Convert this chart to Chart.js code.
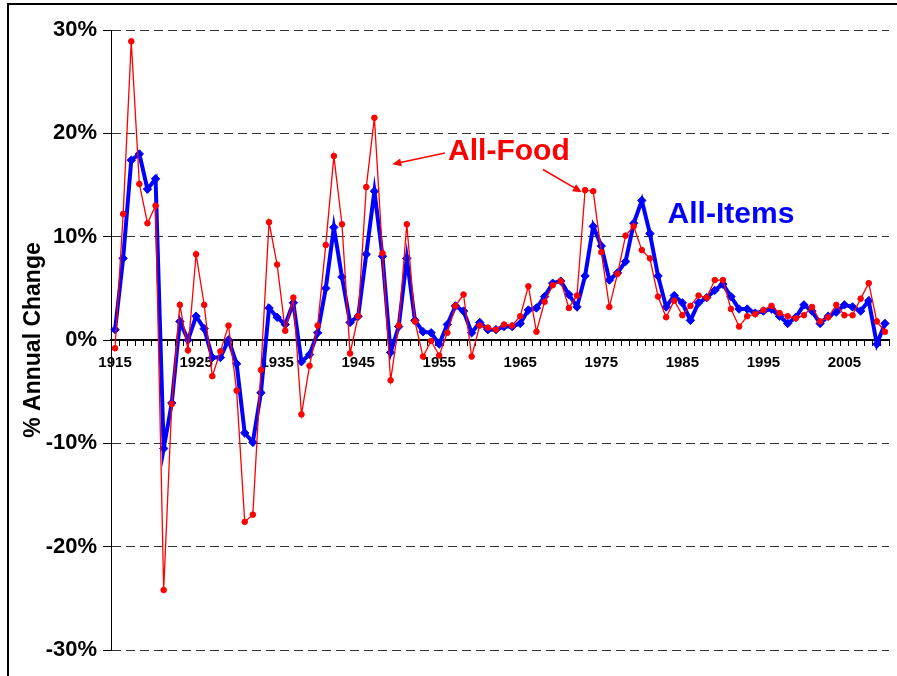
<!DOCTYPE html>
<html>
<head>
<meta charset="utf-8">
<script src="https://cdn.jsdelivr.net/npm/chart.js@4.4.1/dist/chart.umd.min.js"></script>
<style>
  body { margin: 0; background: #fff; }
  #wrap { width: 897px; height: 676px; }
</style>
</head>
<body>
<div id="wrap"><canvas id="cpi" width="897" height="676"></canvas></div>
<script>
// Annual % change, CPI all items vs food, 1915-2010
const years = [];
for (let y = 1915; y <= 2010; y++) years.push(y);

const decadeLabels = [1915, 1925, 1935, 1945, 1955, 1965, 1975, 1985, 1995, 2005];

const allItems = [
    1.0, 7.9, 17.4, 18.0, 14.6, 15.6, -10.5, -6.1, 1.8, 0.0,
    2.3, 1.1, -1.7, -1.7, 0.0, -2.3, -9.0, -9.9, -5.1, 3.1,
    2.2, 1.5, 3.6, -2.1, -1.4, 0.7, 5.0, 10.9, 6.1, 1.7,
    2.3, 8.3, 14.4, 8.1, -1.2, 1.3, 7.9, 1.9, 0.8, 0.7,
    -0.4, 1.5, 3.3, 2.8, 0.7, 1.7, 1.0, 1.0, 1.3, 1.3,
    1.6, 2.9, 3.1, 4.2, 5.5, 5.7, 4.4, 3.2, 6.2, 11.0,
    9.1, 5.8, 6.5, 7.6, 11.3, 13.5, 10.3, 6.2, 3.2, 4.3,
    3.6, 1.9, 3.6, 4.1, 4.8, 5.4, 4.2, 3.0, 3.0, 2.6,
    2.8, 3.0, 2.3, 1.6, 2.2, 3.4, 2.8, 1.6, 2.3, 2.7,
    3.4, 3.2, 2.8, 3.8, -0.4, 1.6
];

const allFood = [
    -0.8, 12.2, 28.9, 15.1, 11.3, 13.0, -24.2, -6.2, 3.4, -1.0,
    8.3, 3.4, -3.5, -1.1, 1.4, -4.9, -17.6, -16.9, -2.9, 11.4,
    7.3, 0.9, 4.1, -7.2, -2.5, 1.4, 9.2, 17.8, 11.2, -1.3,
    2.3, 14.8, 21.5, 8.4, -3.9, 1.4, 11.2, 1.8, -1.6, -0.1,
    -1.5, 0.7, 3.3, 4.4, -1.6, 1.4, 1.2, 1.0, 1.5, 1.4,
    2.3, 5.2, 0.8, 3.7, 5.3, 5.7, 3.1, 4.3, 14.5, 14.4,
    8.5, 3.2, 6.4, 10.1, 11.0, 8.7, 7.9, 4.2, 2.2, 3.8,
    2.4, 3.3, 4.3, 4.1, 5.8, 5.8, 3.0, 1.3, 2.3, 2.5,
    2.9, 3.3, 2.6, 2.3, 2.1, 2.4, 3.2, 1.8, 2.2, 3.4,
    2.4, 2.4, 4.0, 5.5, 1.8, 0.8
];

// text notes and arrows, placed in (category index, %) space
const labelNotes = [
    { text: 'All-Food', color: '#ff0000', at: [48.6, 18.2] },
    { text: 'All-Items', color: '#0000ff', at: [76.0, 12.1] }
];
const arrowNotes = [
    { from: [40.7, 18.1], to: [34.2, 17.0] },
    { from: [52.8, 16.5], to: [57.6, 14.3] }
];

const FONT = "'Liberation Sans', Arial, sans-serif";
Chart.defaults.font.family = FONT;
Chart.defaults.color = '#000';

const framePlugin = {
    id: 'frame',
    beforeDraw(chart) {
        const c = chart.ctx;
        c.save();
        c.fillStyle = '#fff';
        c.fillRect(0, 0, chart.width, chart.height);
        c.strokeStyle = '#000';
        c.lineWidth = 2;
        c.strokeRect(8, 4, 920, 700);
        c.restore();
    }
};

const notesPlugin = {
    id: 'notes',
    afterDatasetsDraw(chart) {
        const { ctx: c, scales: { x, y } } = chart;
        const px = p => [x.getPixelForValue(p[0]), y.getPixelForValue(p[1])];
        c.save();
        c.font = 'bold 30px ' + FONT;
        c.textAlign = 'center';
        c.textBaseline = 'middle';
        labelNotes.forEach(n => {
            const [a, b] = px(n.at);
            c.fillStyle = n.color;
            c.fillText(n.text, a, b);
        });
        c.strokeStyle = '#ff0000';
        c.fillStyle = '#ff0000';
        c.lineWidth = 1.5;
        arrowNotes.forEach(n => {
            const [x0, y0] = px(n.from);
            const [x1, y1] = px(n.to);
            const ang = Math.atan2(y1 - y0, x1 - x0);
            c.beginPath();
            c.moveTo(x0, y0);
            c.lineTo(x1 - 6 * Math.cos(ang), y1 - 6 * Math.sin(ang));
            c.stroke();
            c.beginPath();
            c.moveTo(x1, y1);
            c.lineTo(x1 - 9 * Math.cos(ang) + 4 * Math.sin(ang), y1 - 9 * Math.sin(ang) - 4 * Math.cos(ang));
            c.lineTo(x1 - 9 * Math.cos(ang) - 4 * Math.sin(ang), y1 - 9 * Math.sin(ang) + 4 * Math.cos(ang));
            c.closePath();
            c.fill();
        });
        c.restore();
    }
};

new Chart(document.getElementById('cpi'), {
    type: 'line',
    data: {
        labels: years,
        datasets: [
            {
                label: 'All-Food',
                data: allFood,
                borderColor: '#ff0000',
                backgroundColor: '#ff0000',
                borderWidth: 1.3,
                pointStyle: 'circle',
                pointRadius: 2.8,
                pointBorderWidth: 1,
                tension: 0
            },
            {
                label: 'All-Items',
                data: allItems,
                borderColor: '#0000ff',
                backgroundColor: '#0000ff',
                borderWidth: 4,
                pointStyle: 'rectRot',
                pointRadius: 4.2,
                pointBorderWidth: 1,
                tension: 0
            }
        ]
    },
    options: {
        responsive: false,
        animation: false,
        layout: { padding: { left: 0, top: 30, right: 8, bottom: 26 } },
        plugins: {
            legend: { display: false },
            tooltip: { enabled: false }
        },
        scales: {
            x: {
                type: 'category',
                position: { y: 0 },
                offset: true,
                grid: { offset: true, drawOnChartArea: false, tickLength: 5, tickColor: '#000', tickWidth: 1 },
                border: { color: '#000', width: 2 },
                ticks: {
                    autoSkip: false, maxRotation: 0, minRotation: 0, padding: 9,
                    font: { size: 15, weight: 'bold' },
                    callback(v) {
                        const yr = years[v];
                        return decadeLabels.includes(yr) ? String(yr) : '';
                    }
                },
                afterFit(s) { s.paddingLeft = 0; s.paddingRight = 0; }
            },
            y: {
                min: -30,
                max: 30,
                ticks: {
                    stepSize: 10, padding: 6,
                    font: { size: 22, weight: 'bold' },
                    callback: v => v + '%'
                },
                grid: {
                    color: c => (c.tick && c.tick.value === 0) ? 'rgba(0,0,0,0)' : '#333',
                    tickColor: '#000',
                    tickLength: 8
                },
                border: { color: '#000', width: 1, dash: [9, 5] },
                title: {
                    display: true,
                    text: '% Annual Change',
                    font: { size: 23, weight: 'bold' },
                    padding: { top: 20, bottom: 0 }
                },
                afterFit(s) { s.width = 111; s.paddingTop = 0; s.paddingBottom = 0; }
            }
        }
    },
    plugins: [framePlugin, notesPlugin]
});
</script>
</body>
</html>
